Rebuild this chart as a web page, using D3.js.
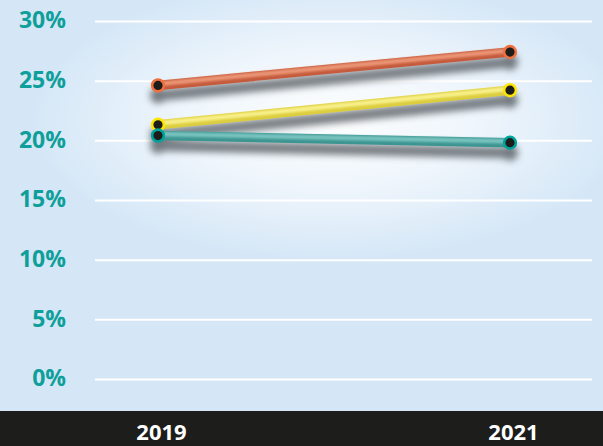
<!DOCTYPE html>
<html><head><meta charset="utf-8">
<script src="https://cdn.jsdelivr.net/npm/d3@7"></script>
<style>html,body{margin:0;padding:0;background:#d5e7f7;}svg{display:block;}</style>
</head><body>
<script>
const years = ["2019", "2021"];
const orangeValues = [24.6, 27.4];
const yellowValues = [21.3, 24.2];
const tealValues = [20.4, 19.8];
const yTicks = [0, 5, 10, 15, 20, 25, 30];

const W = 603, H = 446;
const gridLeft = 95, gridRight = 592;
const yTop = 21, yBottom = 379;
const barTop = 411;

const styles = {
  orange: {base: "#c55b3c", light: "#eb9576", ring: "#f0703f"},
  yellow: {base: "#dccd3e", light: "#f8f08a", ring: "#ffe600"},
  teal:   {base: "#3d9591", light: "#78c3bf", ring: "#00a39b"}
};
const data = [
  {name: "orange", values: orangeValues},
  {name: "yellow", values: yellowValues},
  {name: "teal", values: tealValues}
];

const svg = d3.select("body").append("svg").attr("width", W).attr("height", H);
const defs = svg.append("defs");

const rg = defs.append("radialGradient").attr("id", "glow");
rg.append("stop").attr("offset", "0").attr("stop-color", "#ffffff").attr("stop-opacity", 0.95);
rg.append("stop").attr("offset", "0.5").attr("stop-color", "#ffffff").attr("stop-opacity", 0.6);
rg.append("stop").attr("offset", "1").attr("stop-color", "#ffffff").attr("stop-opacity", 0);

const sh = defs.append("filter").attr("id", "shadow")
  .attr("x", "-20%").attr("y", "-100%").attr("width", "140%").attr("height", "300%");
sh.append("feGaussianBlur").attr("stdDeviation", 3.8);

const hl = defs.append("filter").attr("id", "soft")
  .attr("x", "-10%").attr("y", "-100%").attr("width", "120%").attr("height", "300%");
hl.append("feGaussianBlur").attr("stdDeviation", 1);

svg.append("rect").attr("width", W).attr("height", H).attr("fill", "#d5e7f7");
svg.append("ellipse").attr("cx", 330).attr("cy", 120).attr("rx", 300).attr("ry", 140)
  .attr("fill", "url(#glow)");

const x = d3.scalePoint().domain(years).range([gridLeft + 63, gridRight - 82]);
const y = d3.scaleLinear().domain([0, 30]).range([yBottom, yTop]);

// gridlines + y labels
const yAxis = svg.append("g").attr("transform", `translate(${gridLeft},0)`)
  .call(d3.axisLeft(y).tickValues(yTicks).tickFormat(d => d + "%")
    .tickSizeInner(-(gridRight - gridLeft)).tickSizeOuter(0).tickPadding(29));
yAxis.select(".domain").remove();
yAxis.selectAll(".tick line").attr("stroke", "#ffffff").attr("stroke-width", 2);
yAxis.selectAll(".tick text")
  .attr("fill", "#0e9f9a").attr("font-family", "'Open Sans', sans-serif")
  .attr("font-weight", 700).attr("font-size", 23).attr("dy", "0.3em");

// bottom bar
svg.append("rect").attr("x", 0).attr("y", barTop).attr("width", W).attr("height", H - barTop)
  .attr("fill", "#1d1d1b");
const xAxis = svg.append("g").attr("transform", `translate(3,${barTop})`)
  .call(d3.axisBottom(x).tickSize(0).tickPadding(0));
xAxis.select(".domain").remove();
xAxis.selectAll(".tick text").attr("fill", "#ffffff")
  .attr("font-family", "'Open Sans', sans-serif").attr("font-weight", 700)
  .attr("font-size", 22).attr("dy", "1.3em");

const line = d3.line().x((d, i) => x(years[i])).y(d => y(d));

// shadows
const sg = svg.append("g").attr("transform", "translate(0,10)").attr("filter", "url(#shadow)")
  .attr("opacity", 0.85);
data.forEach(d => {
  sg.append("path").attr("d", line(d.values)).attr("fill", "none")
    .attr("stroke", "#5f656b").attr("stroke-width", 11);
  sg.selectAll(null).data(d.values).join("circle")
    .attr("cx", (v, i) => x(years[i])).attr("cy", v => y(v)).attr("r", 8)
    .attr("fill", "#5f656b");
});

// lines
const lg = svg.append("g");
data.forEach(d => {
  lg.append("path").attr("d", line(d.values)).attr("fill", "none")
    .attr("stroke", styles[d.name].base).attr("stroke-width", 9.5);
  lg.append("path").attr("d", line(d.values)).attr("fill", "none")
    .attr("transform", "translate(0,-1.5)")
    .attr("stroke", styles[d.name].light).attr("stroke-width", 4.5).attr("filter", "url(#soft)");
});

// dots
const dg = svg.append("g");
data.forEach(d => {
  dg.selectAll(null).data(d.values).join("circle")
    .attr("cx", (v, i) => x(years[i])).attr("cy", v => y(v)).attr("r", 5.9)
    .attr("fill", "#1d1d1b").attr("stroke", styles[d.name].ring).attr("stroke-width", 2.6);
});
</script>
</body></html>
